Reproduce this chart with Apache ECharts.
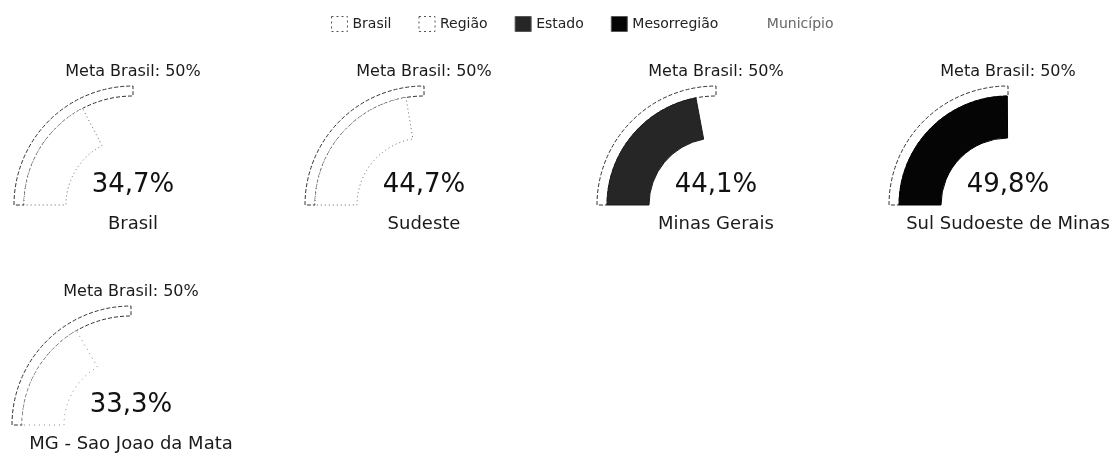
<!DOCTYPE html>
<html>
<head>
<meta charset="utf-8">
<script src="https://cdn.jsdelivr.net/npm/echarts@6/dist/echarts.min.js"></script>
<style>
html,body{margin:0;padding:0;background:#fff;}
#chart{width:1116px;height:454px;}
</style>
</head>
<body>
<div id="chart"></div>
<script>
// ---- data ----
const places = ['Brasil', 'Sudeste', 'Minas Gerais', 'Sul Sudoeste de Minas', 'MG - Sao Joao da Mata'];
const levels = ['Brasil', 'Região', 'Estado', 'Mesorregião', 'Município'];
const values = [34.7, 44.7, 44.1, 49.8, 33.3];
const metaBrasil = [50, 50, 50, 50, 50];
const metaLabel = 'Meta Brasil';

// ---- styles / layout ----
const FONT = 'DejaVu Sans';
const centers = [[133, 205], [424, 205], [716, 205], [1008, 205], [131, 425]];
const levelStyles = {
  'Brasil':      { color: '#ffffff', borderColor: '#666', borderType: [1, 3] },
  'Região':      { color: '#ffffff', borderColor: '#666', borderType: [1, 3] },
  'Estado':      { color: '#262626', borderColor: '#1a1a1a', borderType: 'solid' },
  'Mesorregião': { color: '#050505', borderColor: '#000', borderType: 'solid' },
  'Município':   { color: '#ffffff', borderColor: '#888', borderType: [1, 4] }
};
const fmt = v => v.toFixed(1).replace('.', ',') + '%';

const hidden = { show: false };
const series = [];
places.forEach((place, i) => {
  const c = centers[i];
  const max = metaBrasil[i];
  // outer target ring
  series.push({
    type: 'gauge', name: 'meta-' + i, silent: true,
    center: c, radius: 119, startAngle: 180, endAngle: 90,
    min: 0, max: max,
    axisLine: hidden, axisTick: hidden, splitLine: hidden, axisLabel: hidden, pointer: hidden, anchor: hidden,
    progress: { show: true, width: 10, itemStyle: { color: '#ffffff', borderColor: '#333', borderWidth: 1, borderType: [4, 2] } },
    title: { show: true, offsetCenter: [0, -133], fontFamily: FONT, fontSize: 16, color: '#1a1a1a' },
    detail: hidden,
    data: [{ value: metaBrasil[i], name: metaLabel + ': ' + metaBrasil[i] + '%' }]
  });
  // value band
  const st = levelStyles[levels[i]];
  series.push({
    type: 'gauge', name: levels[i],
    center: c, radius: 109, startAngle: 180, endAngle: 90,
    min: 0, max: max,
    axisLine: hidden, axisTick: hidden, splitLine: hidden, axisLabel: hidden, pointer: hidden, anchor: hidden,
    progress: { show: true, width: 42, itemStyle: { color: st.color, borderColor: st.borderColor, borderWidth: 1, borderType: st.borderType } },
    title: { show: true, offsetCenter: [0, 19], fontFamily: FONT, fontSize: 18, color: '#1a1a1a' },
    detail: { show: true, offsetCenter: [0, -20], fontFamily: FONT, fontSize: 26, color: '#111', fontWeight: 'normal', formatter: fmt },
    data: [{ value: values[i], name: place }]
  });
});

const chart = echarts.init(document.getElementById('chart'));
chart.setOption({
  animation: false,
  backgroundColor: '#ffffff',
  legend: {
    left: 326, top: 11, itemWidth: 16, itemHeight: 15, itemGap: 27,
    textStyle: { fontFamily: FONT, fontSize: 14, color: '#222' },
    data: levels.map(l => ({
      name: l,
      icon: 'rect',
      itemStyle: { color: levelStyles[l].color, borderColor: l === 'Município' ? '#fff' : '#555', borderWidth: 1, borderType: levelStyles[l].borderType === 'solid' ? 'solid' : [2, 3] },
      textStyle: l === 'Município' ? { color: '#666' } : undefined
    }))
  },
  series: series
});
</script>
</body>
</html>
